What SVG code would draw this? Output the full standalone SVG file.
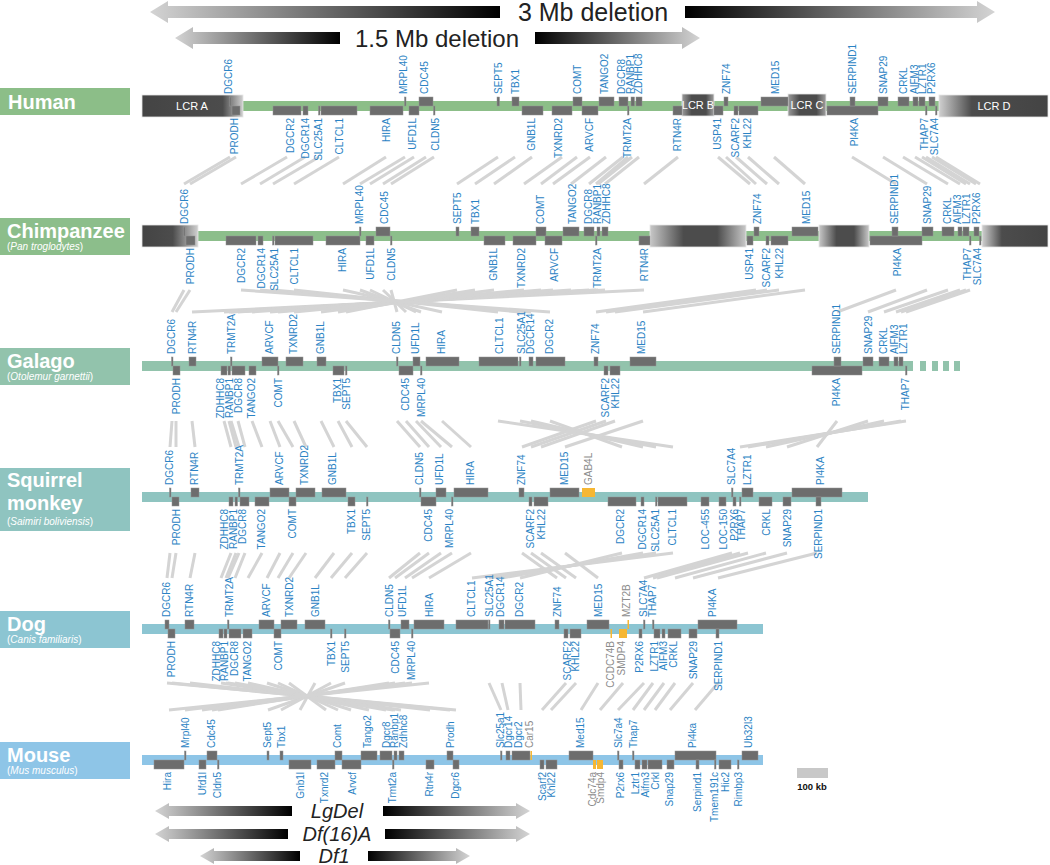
<svg xmlns="http://www.w3.org/2000/svg" width="1050" height="865" viewBox="0 0 1050 865">
<defs>
<style>
.g{fill:#6d6d6d;stroke:#939393;stroke-width:0.5}
.o{fill:#f6b733}
.t{font-family:"Liberation Sans",Arial,sans-serif;font-size:10px;fill:#2b83c4;dominant-baseline:central}
.u{text-anchor:start}
.l{text-anchor:end}
.gr{fill:#8c8c8c}
.lcr{font-family:"Liberation Sans",Arial,sans-serif;font-size:11px;fill:#fff;text-anchor:middle}
.ttl{font-family:"Liberation Sans",Arial,sans-serif;font-size:20px;font-weight:bold;fill:#fff}
.sub{font-family:"Liberation Sans",Arial,sans-serif;font-size:10px;fill:#fff}
.ar{font-family:"Liberation Sans",Arial,sans-serif;fill:#222;text-anchor:middle}
.cn line{stroke:#d4d4d4;stroke-width:3}
.box{stroke:#e6e6e6;stroke-width:0.8}
</style>
<linearGradient id="gA" x1="0" x2="1"><stop offset="0" stop-color="#444"/><stop offset="0.8" stop-color="#4c4c4c"/><stop offset="1" stop-color="#cfcfcf"/></linearGradient>
<linearGradient id="gA2" x1="0" x2="1"><stop offset="0" stop-color="#444"/><stop offset="0.55" stop-color="#4c4c4c"/><stop offset="1" stop-color="#d0d0d0"/></linearGradient>
<linearGradient id="gD" x1="0" x2="1"><stop offset="0" stop-color="#d0d0d0"/><stop offset="0.3" stop-color="#4c4c4c"/><stop offset="1" stop-color="#444"/></linearGradient>
<linearGradient id="gM" x1="0" x2="1"><stop offset="0" stop-color="#c8c8c8"/><stop offset="0.35" stop-color="#4c4c4c"/><stop offset="0.7" stop-color="#4c4c4c"/><stop offset="1" stop-color="#c8c8c8"/></linearGradient>
<linearGradient id="gS" x1="0" x2="1"><stop offset="0" stop-color="#9a9a9a"/><stop offset="0.3" stop-color="#4c4c4c"/><stop offset="0.75" stop-color="#4c4c4c"/><stop offset="1" stop-color="#a0a0a0"/></linearGradient>
<linearGradient id="arL" x1="0" x2="1"><stop offset="0" stop-color="#d4d4d4"/><stop offset="1" stop-color="#000"/></linearGradient>
<linearGradient id="arR" x1="0" x2="1"><stop offset="0" stop-color="#000"/><stop offset="1" stop-color="#d4d4d4"/></linearGradient>
</defs>
<rect width="1050" height="865" fill="#fff"/>

<g id="deletion-3mb">
<polygon fill="url(#arL)" points="150,12 168,1 168,6 500,6 500,18 168,18 168,23"/>
<polygon fill="url(#arR)" points="685,6 977,6 977,1 995,12 977,23 977,18 685,18"/>
<text class="ar" x="593" y="21" font-size="25">3 Mb deletion</text>
</g>
<g id="deletion-1_5mb">
<polygon fill="url(#arL)" points="175,38 193,27 193,32 340,32 340,44 193,44 193,49"/>
<polygon fill="url(#arR)" points="535,32 682,32 682,27 700,38 682,49 682,44 535,44"/>
<text class="ar" x="437" y="47" font-size="24">1.5 Mb deletion</text>
</g>

<g class="cn" id="connectors">
<line x1="230" y1="157" x2="184" y2="184"/><line x1="236" y1="157" x2="190" y2="184"/><line x1="287" y1="157" x2="241" y2="184"/><line x1="305" y1="157" x2="260" y2="184"/><line x1="319" y1="157" x2="273" y2="184"/><line x1="339" y1="157" x2="294" y2="184"/><line x1="386" y1="157" x2="343" y2="184"/><line x1="405" y1="157" x2="360" y2="184"/><line x1="414" y1="157" x2="370" y2="184"/><line x1="426" y1="157" x2="383" y2="184"/><line x1="434" y1="157" x2="391" y2="184"/><line x1="498" y1="157" x2="457" y2="184"/><line x1="515" y1="157" x2="475" y2="184"/><line x1="532" y1="157" x2="494" y2="184"/><line x1="562" y1="157" x2="524" y2="184"/><line x1="577" y1="157" x2="541" y2="184"/><line x1="590" y1="157" x2="553" y2="184"/><line x1="606" y1="157" x2="571" y2="184"/><line x1="623" y1="157" x2="589" y2="184"/><line x1="628" y1="157" x2="596" y2="184"/><line x1="632" y1="157" x2="598" y2="184"/><line x1="639" y1="157" x2="605" y2="184"/><line x1="678" y1="157" x2="644" y2="184"/><line x1="718" y1="157" x2="750" y2="184"/><line x1="726" y1="157" x2="756" y2="184"/><line x1="736" y1="157" x2="767" y2="184"/><line x1="748" y1="157" x2="779" y2="184"/><line x1="774" y1="157" x2="805" y2="184"/><line x1="852" y1="157" x2="896" y2="184"/><line x1="883" y1="157" x2="927" y2="184"/><line x1="903" y1="157" x2="948" y2="184"/><line x1="915" y1="157" x2="960" y2="184"/><line x1="922" y1="157" x2="966" y2="184"/><line x1="926" y1="157" x2="970" y2="184"/><line x1="932" y1="157" x2="976" y2="184"/><line x1="936" y1="157" x2="980" y2="184"/>
<line x1="184" y1="290" x2="172" y2="312"/><line x1="190" y1="290" x2="176" y2="312"/><line x1="644" y1="290" x2="192" y2="312"/><line x1="605" y1="290" x2="224" y2="312"/><line x1="598" y1="290" x2="229" y2="312"/><line x1="596" y1="290" x2="231" y2="312"/><line x1="589" y1="290" x2="238" y2="312"/><line x1="571" y1="290" x2="252" y2="312"/><line x1="553" y1="290" x2="270" y2="312"/><line x1="541" y1="290" x2="278" y2="312"/><line x1="524" y1="290" x2="294" y2="312"/><line x1="494" y1="290" x2="321" y2="312"/><line x1="475" y1="290" x2="338" y2="312"/><line x1="457" y1="290" x2="346" y2="312"/><line x1="391" y1="290" x2="397" y2="312"/><line x1="383" y1="290" x2="406" y2="312"/><line x1="370" y1="290" x2="416" y2="312"/><line x1="360" y1="290" x2="421" y2="312"/><line x1="343" y1="290" x2="442" y2="312"/><line x1="294" y1="290" x2="498" y2="312"/><line x1="273" y1="290" x2="520" y2="312"/><line x1="260" y1="290" x2="531" y2="312"/><line x1="241" y1="290" x2="550" y2="312"/><line x1="756" y1="290" x2="596" y2="312"/><line x1="767" y1="290" x2="606" y2="312"/><line x1="779" y1="290" x2="615" y2="312"/><line x1="805" y1="290" x2="643" y2="312"/><line x1="896" y1="290" x2="837" y2="312"/><line x1="927" y1="290" x2="868" y2="312"/><line x1="948" y1="290" x2="884" y2="312"/><line x1="960" y1="290" x2="896" y2="312"/><line x1="966" y1="290" x2="901" y2="312"/><line x1="970" y1="290" x2="906" y2="312"/>
<line x1="172" y1="421" x2="170" y2="447"/><line x1="176" y1="421" x2="176" y2="447"/><line x1="192" y1="421" x2="195" y2="447"/><line x1="224" y1="421" x2="231" y2="447"/><line x1="229" y1="421" x2="236" y2="447"/><line x1="231" y1="421" x2="239" y2="447"/><line x1="238" y1="421" x2="245" y2="447"/><line x1="252" y1="421" x2="262" y2="447"/><line x1="270" y1="421" x2="280" y2="447"/><line x1="278" y1="421" x2="293" y2="447"/><line x1="294" y1="421" x2="306" y2="447"/><line x1="321" y1="421" x2="334" y2="447"/><line x1="338" y1="421" x2="352" y2="447"/><line x1="346" y1="421" x2="367" y2="447"/><line x1="397" y1="421" x2="420" y2="447"/><line x1="406" y1="421" x2="429" y2="447"/><line x1="416" y1="421" x2="441" y2="447"/><line x1="421" y1="421" x2="452" y2="447"/><line x1="442" y1="421" x2="471" y2="447"/><line x1="498" y1="421" x2="673" y2="447"/><line x1="520" y1="421" x2="656" y2="447"/><line x1="531" y1="421" x2="643" y2="447"/><line x1="550" y1="421" x2="622" y2="447"/><line x1="596" y1="421" x2="522" y2="447"/><line x1="606" y1="421" x2="531" y2="447"/><line x1="615" y1="421" x2="541" y2="447"/><line x1="643" y1="421" x2="565" y2="447"/><line x1="837" y1="421" x2="817" y2="447"/><line x1="868" y1="421" x2="787" y2="447"/><line x1="884" y1="421" x2="766" y2="447"/><line x1="901" y1="421" x2="748" y2="447"/><line x1="906" y1="421" x2="740" y2="447"/>
<line x1="170" y1="553" x2="167" y2="578"/><line x1="176" y1="553" x2="172" y2="578"/><line x1="195" y1="553" x2="190" y2="578"/><line x1="231" y1="553" x2="221" y2="578"/><line x1="236" y1="553" x2="226" y2="578"/><line x1="239" y1="553" x2="228" y2="578"/><line x1="245" y1="553" x2="235" y2="578"/><line x1="262" y1="553" x2="248" y2="578"/><line x1="280" y1="553" x2="267" y2="578"/><line x1="293" y1="553" x2="278" y2="578"/><line x1="306" y1="553" x2="289" y2="578"/><line x1="334" y1="553" x2="315" y2="578"/><line x1="352" y1="553" x2="331" y2="578"/><line x1="367" y1="553" x2="345" y2="578"/><line x1="420" y1="553" x2="389" y2="578"/><line x1="429" y1="553" x2="395" y2="578"/><line x1="441" y1="553" x2="405" y2="578"/><line x1="452" y1="553" x2="412" y2="578"/><line x1="471" y1="553" x2="429" y2="578"/><line x1="522" y1="553" x2="557" y2="578"/><line x1="531" y1="553" x2="566" y2="578"/><line x1="541" y1="553" x2="576" y2="578"/><line x1="565" y1="553" x2="598" y2="578"/><line x1="622" y1="553" x2="520" y2="578"/><line x1="643" y1="553" x2="502" y2="578"/><line x1="656" y1="553" x2="489" y2="578"/><line x1="673" y1="553" x2="472" y2="578"/><line x1="732" y1="553" x2="644" y2="578"/><line x1="740" y1="553" x2="653" y2="578"/><line x1="748" y1="553" x2="657" y2="578"/><line x1="766" y1="553" x2="675" y2="578"/><line x1="787" y1="553" x2="693" y2="578"/><line x1="817" y1="553" x2="718" y2="578"/>
<line x1="167" y1="683" x2="456" y2="710"/><line x1="172" y1="683" x2="450" y2="710"/><line x1="190" y1="683" x2="430" y2="710"/><line x1="221" y1="683" x2="401" y2="710"/><line x1="226" y1="683" x2="395" y2="710"/><line x1="228" y1="683" x2="393" y2="710"/><line x1="235" y1="683" x2="386" y2="710"/><line x1="248" y1="683" x2="369" y2="710"/><line x1="267" y1="683" x2="351" y2="710"/><line x1="278" y1="683" x2="338" y2="710"/><line x1="289" y1="683" x2="326" y2="710"/><line x1="315" y1="683" x2="300" y2="710"/><line x1="331" y1="683" x2="281" y2="710"/><line x1="345" y1="683" x2="268" y2="710"/><line x1="389" y1="683" x2="218" y2="710"/><line x1="395" y1="683" x2="212" y2="710"/><line x1="405" y1="683" x2="202" y2="710"/><line x1="412" y1="683" x2="185" y2="710"/><line x1="429" y1="683" x2="169" y2="710"/><line x1="489" y1="683" x2="501" y2="710"/><line x1="502" y1="683" x2="508" y2="710"/><line x1="520" y1="683" x2="521" y2="710"/><line x1="566" y1="683" x2="542" y2="710"/><line x1="576" y1="683" x2="551" y2="710"/><line x1="598" y1="683" x2="581" y2="710"/><line x1="623" y1="683" x2="600" y2="710"/><line x1="644" y1="683" x2="618" y2="710"/><line x1="653" y1="683" x2="633" y2="710"/><line x1="664" y1="683" x2="644" y2="710"/><line x1="675" y1="683" x2="655" y2="710"/><line x1="693" y1="683" x2="670" y2="710"/><line x1="718" y1="683" x2="695" y2="710"/>
</g>

<g id="human">
<rect x="0" y="88" width="130" height="27" fill="#8cbe88"/>
<text class="ttl" x="8" y="109">Human</text>
<rect x="142" y="101" width="906" height="10" fill="#8cbe88"/>
<rect class="box" x="142" y="95" width="101" height="22" fill="url(#gA)"/><text class="lcr" x="192" y="110">LCR A</text>
<rect class="box" x="682" y="94" width="32" height="22" fill="url(#gS)"/><text class="lcr" x="698" y="109" font-size="10">LCR B</text>
<rect class="box" x="788" y="94" width="38" height="22" fill="url(#gS)"/><text class="lcr" x="807" y="109">LCR C</text>
<rect class="box" x="939" y="95" width="109" height="22" fill="url(#gD)"/><text class="lcr" x="994" y="110">LCR D</text>
<rect class="g" x="229.5" y="97" width="1.5" height="9"/><rect class="g" x="232" y="106" width="8" height="9"/><rect class="g" x="273" y="106" width="28" height="9"/><rect class="g" x="303" y="106" width="5" height="9"/><rect class="g" x="318.5" y="106" width="1.5" height="9"/><rect class="g" x="321" y="106" width="36" height="9"/><rect class="g" x="370" y="106" width="33" height="9"/><rect class="g" x="404.5" y="97" width="1.5" height="9"/><rect class="g" x="409" y="106" width="10" height="9"/><rect class="g" x="419" y="97" width="14" height="9"/><rect class="g" x="433.5" y="106" width="1.5" height="9"/><rect class="g" x="497" y="97" width="2.5" height="9"/><rect class="g" x="512" y="97" width="7" height="9"/><rect class="g" x="522" y="106" width="21" height="9"/><rect class="g" x="552" y="106" width="20" height="9"/><rect class="g" x="573" y="97" width="9" height="9"/><rect class="g" x="582" y="106" width="16" height="9"/><rect class="g" x="599" y="97" width="15" height="9"/><rect class="g" x="619" y="97" width="9" height="9"/><rect class="g" x="627.5" y="106" width="1.5" height="9"/><rect class="g" x="631" y="97" width="3.5" height="9"/><rect class="g" x="636" y="97" width="6" height="9"/><rect class="g" x="673" y="106" width="9" height="9"/><rect class="g" x="714" y="106" width="9" height="9"/><rect class="g" x="724" y="97" width="4" height="9"/><rect class="g" x="734" y="106" width="4" height="9"/><rect class="g" x="739" y="106" width="19" height="9"/><rect class="g" x="761" y="97" width="27" height="9"/><rect class="g" x="827" y="106" width="51" height="9"/><rect class="g" x="850" y="97" width="5" height="9"/><rect class="g" x="878" y="97" width="10" height="9"/><rect class="g" x="898" y="97" width="11" height="9"/><rect class="g" x="913" y="97" width="5" height="9"/><rect class="g" x="919" y="97" width="6" height="9"/><rect class="g" x="925.5" y="106" width="1.5" height="9"/><rect class="g" x="929" y="97" width="6" height="9"/><rect class="g" x="935.5" y="106" width="1.5" height="9"/>
<text class="t u" transform="translate(228 94)rotate(-90)">DGCR6</text><text class="t u" transform="translate(403 94)rotate(-90)">MRPL40</text><text class="t u" transform="translate(424 94)rotate(-90)">CDC45</text><text class="t u" transform="translate(498 94)rotate(-90)">SEPT5</text><text class="t u" transform="translate(515 94)rotate(-90)">TBX1</text><text class="t u" transform="translate(577 94)rotate(-90)">COMT</text><text class="t u" transform="translate(604 94)rotate(-90)">TANGO2</text><text class="t u" transform="translate(621 94)rotate(-90)">DGCR8</text><text class="t u" transform="translate(630 94)rotate(-90)">RANBP1</text><text class="t u" transform="translate(638 94)rotate(-90)">ZDHHC8</text><text class="t u" transform="translate(726 94)rotate(-90)">ZNF74</text><text class="t u" transform="translate(775 94)rotate(-90)">MED15</text><text class="t u" transform="translate(852 94)rotate(-90)">SERPIND1</text><text class="t u" transform="translate(883 94)rotate(-90)">SNAP29</text><text class="t u" transform="translate(903 94)rotate(-90)">CRKL</text><text class="t u" transform="translate(914 94)rotate(-90)">AIFM3</text><text class="t u" transform="translate(922 94)rotate(-90)">LZTR1</text><text class="t u" transform="translate(931 94)rotate(-90)">P2RX6</text>
<text class="t l" transform="translate(234 118)rotate(-90)">PRODH</text><text class="t l" transform="translate(290 118)rotate(-90)">DGCR2</text><text class="t l" transform="translate(305 118)rotate(-90)">DGCR14</text><text class="t l" transform="translate(318 118)rotate(-90)">SLC25A1</text><text class="t l" transform="translate(339 118)rotate(-90)">CLTCL1</text><text class="t l" transform="translate(386 118)rotate(-90)">HIRA</text><text class="t l" transform="translate(412 118)rotate(-90)">UFD1L</text><text class="t l" transform="translate(435 118)rotate(-90)">CLDN5</text><text class="t l" transform="translate(531 118)rotate(-90)">GNB1L</text><text class="t l" transform="translate(558 118)rotate(-90)">TXNRD2</text><text class="t l" transform="translate(589 118)rotate(-90)">ARVCF</text><text class="t l" transform="translate(627 118)rotate(-90)">TRMT2A</text><text class="t l" transform="translate(677 118)rotate(-90)">RTN4R</text><text class="t l" transform="translate(717 118)rotate(-90)">USP41</text><text class="t l" transform="translate(735 118)rotate(-90)">SCARF2</text><text class="t l" transform="translate(747 118)rotate(-90)">KHL22</text><text class="t l" transform="translate(854 118)rotate(-90)">PI4KA</text><text class="t l" transform="translate(924 118)rotate(-90)">THAP7</text><text class="t l" transform="translate(934 118)rotate(-90)">SLC7A4</text>
</g>

<g id="chimpanzee">
<rect x="0" y="218" width="130" height="37" fill="#8cbe8b"/>
<text class="ttl" x="7" y="238">Chimpanzee</text>
<text class="sub" x="7" y="250">(<tspan font-style="italic">Pan troglodytes</tspan>)</text>
<rect x="142" y="231" width="906" height="10" fill="#8cbe8b"/>
<rect class="box" x="142" y="225" width="56" height="22" fill="url(#gA2)"/>
<rect class="box" x="650" y="225" width="96" height="22" fill="url(#gM)"/>
<rect class="box" x="819" y="225" width="50" height="22" fill="url(#gM)"/>
<rect class="box" x="982" y="225" width="66" height="22" fill="url(#gD)"/>
<rect class="g" x="183.5" y="227" width="1.5" height="9"/><rect class="g" x="186" y="236" width="9" height="9"/><rect class="g" x="226" y="236" width="30" height="9"/><rect class="g" x="258" y="236" width="5" height="9"/><rect class="g" x="272.5" y="236" width="1.5" height="9"/><rect class="g" x="275" y="236" width="38" height="9"/><rect class="g" x="326" y="236" width="34" height="9"/><rect class="g" x="359.5" y="227" width="1.5" height="9"/><rect class="g" x="366" y="236" width="8" height="9"/><rect class="g" x="376" y="227" width="14" height="9"/><rect class="g" x="390.5" y="236" width="1.5" height="9"/><rect class="g" x="456" y="227" width="3" height="9"/><rect class="g" x="471" y="227" width="8" height="9"/><rect class="g" x="484" y="236" width="21" height="9"/><rect class="g" x="513" y="236" width="23" height="9"/><rect class="g" x="536" y="227" width="10" height="9"/><rect class="g" x="545" y="236" width="17" height="9"/><rect class="g" x="563" y="227" width="16" height="9"/><rect class="g" x="584" y="227" width="10" height="9"/><rect class="g" x="595.5" y="236" width="1.5" height="9"/><rect class="g" x="597" y="227" width="3" height="9"/><rect class="g" x="602" y="227" width="6" height="9"/><rect class="g" x="639" y="236" width="11" height="9"/><rect class="g" x="747" y="236" width="6" height="9"/><rect class="g" x="754" y="227" width="5" height="9"/><rect class="g" x="766" y="236" width="3" height="9"/><rect class="g" x="771" y="236" width="17" height="9"/><rect class="g" x="792" y="227" width="26" height="9"/><rect class="g" x="870" y="236" width="52" height="9"/><rect class="g" x="892" y="227" width="6" height="9"/><rect class="g" x="922" y="227" width="11" height="9"/><rect class="g" x="942" y="227" width="12" height="9"/><rect class="g" x="958" y="227" width="4" height="9"/><rect class="g" x="963" y="227" width="6" height="9"/><rect class="g" x="969.5" y="236" width="1.5" height="9"/><rect class="g" x="974" y="227" width="5" height="9"/><rect class="g" x="979.5" y="236" width="1.5" height="9"/>
<text class="t u" transform="translate(184 224)rotate(-90)">DGCR6</text><text class="t u" transform="translate(359 224)rotate(-90)">MRPL40</text><text class="t u" transform="translate(384 224)rotate(-90)">CDC45</text><text class="t u" transform="translate(457 224)rotate(-90)">SEPT5</text><text class="t u" transform="translate(475 224)rotate(-90)">TBX1</text><text class="t u" transform="translate(540 224)rotate(-90)">COMT</text><text class="t u" transform="translate(572 224)rotate(-90)">TANGO2</text><text class="t u" transform="translate(588 224)rotate(-90)">DGCR8</text><text class="t u" transform="translate(597 224)rotate(-90)">RANBP1</text><text class="t u" transform="translate(606 224)rotate(-90)">ZDHHC8</text><text class="t u" transform="translate(757 224)rotate(-90)">ZNF74</text><text class="t u" transform="translate(806 224)rotate(-90)">MED15</text><text class="t u" transform="translate(894 224)rotate(-90)">SERPIND1</text><text class="t u" transform="translate(927 224)rotate(-90)">SNAP29</text><text class="t u" transform="translate(947 224)rotate(-90)">CRKL</text><text class="t u" transform="translate(957 224)rotate(-90)">AIFM3</text><text class="t u" transform="translate(966 224)rotate(-90)">LZTR1</text><text class="t u" transform="translate(976 224)rotate(-90)">P2RX6</text>
<text class="t l" transform="translate(190 248)rotate(-90)">PRODH</text><text class="t l" transform="translate(241 248)rotate(-90)">DGCR2</text><text class="t l" transform="translate(261 248)rotate(-90)">DGCR14</text><text class="t l" transform="translate(274 248)rotate(-90)">SLC25A1</text><text class="t l" transform="translate(294 248)rotate(-90)">CLTCL1</text><text class="t l" transform="translate(342 248)rotate(-90)">HIRA</text><text class="t l" transform="translate(370 248)rotate(-90)">UFD1L</text><text class="t l" transform="translate(391 248)rotate(-90)">CLDN5</text><text class="t l" transform="translate(493 248)rotate(-90)">GNB1L</text><text class="t l" transform="translate(521 248)rotate(-90)">TXNRD2</text><text class="t l" transform="translate(554 248)rotate(-90)">ARVCF</text><text class="t l" transform="translate(597 248)rotate(-90)">TRMT2A</text><text class="t l" transform="translate(644 248)rotate(-90)">RTN4R</text><text class="t l" transform="translate(749 248)rotate(-90)">USP41</text><text class="t l" transform="translate(766 248)rotate(-90)">SCARF2</text><text class="t l" transform="translate(779 248)rotate(-90)">KHL22</text><text class="t l" transform="translate(897 248)rotate(-90)">PI4KA</text><text class="t l" transform="translate(967 248)rotate(-90)">THAP7</text><text class="t l" transform="translate(977 248)rotate(-90)">SLC7A4</text>
</g>

<g id="galago">
<rect x="0" y="348" width="130" height="37" fill="#92c3ac"/>
<text class="ttl" x="7" y="368">Galago</text>
<text class="sub" x="7" y="380">(<tspan font-style="italic">Otolemur garnettii</tspan>)</text>
<rect x="142" y="361" width="771" height="10" fill="#92c3ac"/>
<rect x="920" y="361" width="6" height="10" fill="#92c3ac"/><rect x="932" y="361" width="6" height="10" fill="#92c3ac"/><rect x="943" y="361" width="6" height="10" fill="#92c3ac"/><rect x="954" y="361" width="6" height="10" fill="#92c3ac"/>
<rect class="g" x="171.5" y="357" width="1.5" height="9"/><rect class="g" x="173" y="366" width="7" height="9"/><rect class="g" x="189" y="357" width="7" height="9"/><rect class="g" x="221" y="366" width="6" height="9"/><rect class="g" x="228" y="366" width="2.5" height="9"/><rect class="g" x="230.5" y="357" width="1.5" height="9"/><rect class="g" x="232" y="366" width="13" height="9"/><rect class="g" x="249" y="366" width="7" height="9"/><rect class="g" x="262" y="357" width="16" height="9"/><rect class="g" x="277.5" y="366" width="1.5" height="9"/><rect class="g" x="286" y="357" width="17" height="9"/><rect class="g" x="317" y="357" width="9" height="9"/><rect class="g" x="333" y="366" width="11" height="9"/><rect class="g" x="345.5" y="366" width="1.5" height="9"/><rect class="g" x="396.5" y="357" width="1.5" height="9"/><rect class="g" x="399" y="366" width="14" height="9"/><rect class="g" x="413" y="357" width="7" height="9"/><rect class="g" x="420.5" y="366" width="1.5" height="9"/><rect class="g" x="426" y="357" width="33" height="9"/><rect class="g" x="479" y="357" width="39" height="9"/><rect class="g" x="519.5" y="357" width="1.5" height="9"/><rect class="g" x="529" y="357" width="4" height="9"/><rect class="g" x="536" y="357" width="29" height="9"/><rect class="g" x="594" y="357" width="4" height="9"/><rect class="g" x="604" y="366" width="4" height="9"/><rect class="g" x="610" y="366" width="10" height="9"/><rect class="g" x="630" y="357" width="26" height="9"/><rect class="g" x="812" y="366" width="50" height="9"/><rect class="g" x="834" y="357" width="7" height="9"/><rect class="g" x="863" y="357" width="10" height="9"/><rect class="g" x="879" y="357" width="10" height="9"/><rect class="g" x="894" y="357" width="4" height="9"/><rect class="g" x="899" y="357" width="4" height="9"/><rect class="g" x="905.5" y="366" width="1.5" height="9"/>
<text class="t u" transform="translate(171 354)rotate(-90)">DGCR6</text><text class="t u" transform="translate(192 354)rotate(-90)">RTN4R</text><text class="t u" transform="translate(231 354)rotate(-90)">TRMT2A</text><text class="t u" transform="translate(269 354)rotate(-90)">ARVCF</text><text class="t u" transform="translate(293 354)rotate(-90)">TXNRD2</text><text class="t u" transform="translate(320 354)rotate(-90)">GNB1L</text><text class="t u" transform="translate(396 354)rotate(-90)">CLDN5</text><text class="t u" transform="translate(415 354)rotate(-90)">UFD1L</text><text class="t u" transform="translate(441 354)rotate(-90)">HIRA</text><text class="t u" transform="translate(499 354)rotate(-90)">CLTCL1</text><text class="t u" transform="translate(521 354)rotate(-90)">SLC25A1</text><text class="t u" transform="translate(530 354)rotate(-90)">DGCR14</text><text class="t u" transform="translate(549 354)rotate(-90)">DGCR2</text><text class="t u" transform="translate(595 354)rotate(-90)">ZNF74</text><text class="t u" transform="translate(641 354)rotate(-90)">MED15</text><text class="t u" transform="translate(836 354)rotate(-90)">SERPIND1</text><text class="t u" transform="translate(868 354)rotate(-90)">SNAP29</text><text class="t u" transform="translate(883 354)rotate(-90)">CRKL</text><text class="t u" transform="translate(894 354)rotate(-90)">AIFM3</text><text class="t u" transform="translate(903 354)rotate(-90)">LZTR1</text>
<text class="t l" transform="translate(176 378)rotate(-90)">PRODH</text><text class="t l" transform="translate(220 378)rotate(-90)">ZDHHC8</text><text class="t l" transform="translate(229 378)rotate(-90)">RANBP1</text><text class="t l" transform="translate(238 378)rotate(-90)">DGCR8</text><text class="t l" transform="translate(251 378)rotate(-90)">TANGO2</text><text class="t l" transform="translate(278 378)rotate(-90)">COMT</text><text class="t l" transform="translate(337 378)rotate(-90)">TBX1</text><text class="t l" transform="translate(346 378)rotate(-90)">SEPT5</text><text class="t l" transform="translate(405 378)rotate(-90)">CDC45</text><text class="t l" transform="translate(421 378)rotate(-90)">MRPL40</text><text class="t l" transform="translate(605 378)rotate(-90)">SCARF2</text><text class="t l" transform="translate(615 378)rotate(-90)">KHL22</text><text class="t l" transform="translate(836 378)rotate(-90)">PI4KA</text><text class="t l" transform="translate(905 378)rotate(-90)">THAP7</text>
</g>

<g id="squirrel-monkey">
<rect x="0" y="468" width="130" height="63" fill="#8fc4c0"/>
<text class="ttl" x="7" y="487">Squirrel</text>
<text class="ttl" x="7" y="510">monkey</text>
<text class="sub" x="7" y="525">(<tspan font-style="italic">Saimiri boliviensis</tspan>)</text>
<rect x="142" y="492" width="726" height="10" fill="#8fc4c0"/>
<rect class="g" x="169.5" y="488" width="1.5" height="9"/><rect class="g" x="172" y="497" width="7" height="9"/><rect class="g" x="191" y="488" width="8" height="9"/><rect class="g" x="229" y="497" width="4" height="9"/><rect class="g" x="235" y="497" width="2.5" height="9"/><rect class="g" x="238.5" y="488" width="1.5" height="9"/><rect class="g" x="240" y="497" width="9" height="9"/><rect class="g" x="255" y="497" width="14" height="9"/><rect class="g" x="270" y="488" width="19" height="9"/><rect class="g" x="289" y="497" width="7" height="9"/><rect class="g" x="296" y="488" width="19" height="9"/><rect class="g" x="322" y="488" width="24" height="9"/><rect class="g" x="348" y="497" width="7" height="9"/><rect class="g" x="366.5" y="497" width="1.5" height="9"/><rect class="g" x="419.5" y="488" width="1.5" height="9"/><rect class="g" x="421" y="497" width="15" height="9"/><rect class="g" x="436" y="488" width="10" height="9"/><rect class="g" x="451.5" y="497" width="1.5" height="9"/><rect class="g" x="454" y="488" width="34" height="9"/><rect class="g" x="519" y="488" width="5" height="9"/><rect class="g" x="529" y="497" width="3" height="9"/><rect class="g" x="534" y="497" width="14" height="9"/><rect class="g" x="550" y="488" width="29" height="9"/><rect class="o" x="582" y="488" width="13" height="9"/><rect class="g" x="608" y="497" width="28" height="9"/><rect class="g" x="641" y="497" width="3" height="9"/><rect class="g" x="655.5" y="497" width="1.5" height="9"/><rect class="g" x="658" y="497" width="29" height="9"/><rect class="g" x="701" y="497" width="8" height="9"/><rect class="g" x="719" y="497" width="7" height="9"/><rect class="g" x="731.5" y="488" width="1.5" height="9"/><rect class="g" x="733" y="497" width="3" height="9"/><rect class="g" x="739.5" y="497" width="1.5" height="9"/><rect class="g" x="742" y="488" width="11" height="9"/><rect class="g" x="759" y="497" width="13" height="9"/><rect class="g" x="783" y="497" width="8" height="9"/><rect class="g" x="792" y="488" width="50" height="9"/><rect class="g" x="816" y="497" width="5" height="9"/>
<text class="t u" transform="translate(169 485)rotate(-90)">DGCR6</text><text class="t u" transform="translate(194 485)rotate(-90)">RTN4R</text><text class="t u" transform="translate(239 485)rotate(-90)">TRMT2A</text><text class="t u" transform="translate(279 485)rotate(-90)">ARVCF</text><text class="t u" transform="translate(304 485)rotate(-90)">TXNRD2</text><text class="t u" transform="translate(332 485)rotate(-90)">GNB1L</text><text class="t u" transform="translate(419 485)rotate(-90)">CLDN5</text><text class="t u" transform="translate(439 485)rotate(-90)">UFD1L</text><text class="t u" transform="translate(470 485)rotate(-90)">HIRA</text><text class="t u" transform="translate(521 485)rotate(-90)">ZNF74</text><text class="t u" transform="translate(564 485)rotate(-90)">MED15</text><text class="t u gr" transform="translate(588 485)rotate(-90)">GAB4L</text><text class="t u" transform="translate(731 485)rotate(-90)">SLC7A4</text><text class="t u" transform="translate(747 485)rotate(-90)">LZTR1</text><text class="t u" transform="translate(820 485)rotate(-90)">PI4KA</text>
<text class="t l" transform="translate(176 509)rotate(-90)">PRODH</text><text class="t l" transform="translate(224 509)rotate(-90)">ZDHHC8</text><text class="t l" transform="translate(233 509)rotate(-90)">RANBP1</text><text class="t l" transform="translate(242 509)rotate(-90)">DGCR8</text><text class="t l" transform="translate(261 509)rotate(-90)">TANGO2</text><text class="t l" transform="translate(292 509)rotate(-90)">COMT</text><text class="t l" transform="translate(351 509)rotate(-90)">TBX1</text><text class="t l" transform="translate(366 509)rotate(-90)">SEPT5</text><text class="t l" transform="translate(428 509)rotate(-90)">CDC45</text><text class="t l" transform="translate(449 509)rotate(-90)">MRPL40</text><text class="t l" transform="translate(530 509)rotate(-90)">SCARF2</text><text class="t l" transform="translate(541 509)rotate(-90)">KHL22</text><text class="t l" transform="translate(620 509)rotate(-90)">DGCR2</text><text class="t l" transform="translate(642 509)rotate(-90)">DGCR14</text><text class="t l" transform="translate(655 509)rotate(-90)">SLC25A1</text><text class="t l" transform="translate(672 509)rotate(-90)">CLTCL1</text><text class="t l" transform="translate(705 509)rotate(-90)">LOC-455</text><text class="t l" transform="translate(723 509)rotate(-90)">LOC-150</text><text class="t l" transform="translate(734 509)rotate(-90)">P2RX6</text><text class="t l" transform="translate(741 509)rotate(-90)">THAP7</text><text class="t l" transform="translate(766 509)rotate(-90)">CRKL</text><text class="t l" transform="translate(787 509)rotate(-90)">SNAP29</text><text class="t l" transform="translate(818 509)rotate(-90)">SERPIND1</text>
</g>

<g id="dog">
<rect x="0" y="611" width="130" height="37" fill="#8cc5d2"/>
<text class="ttl" x="7" y="631">Dog</text>
<text class="sub" x="7" y="643">(<tspan font-style="italic">Canis familiaris</tspan>)</text>
<rect x="142" y="624" width="621" height="10" fill="#8cc5d2"/>
<rect class="g" x="165" y="620" width="4" height="9"/><rect class="g" x="168" y="629" width="7" height="9"/><rect class="g" x="185" y="620" width="9" height="9"/><rect class="g" x="219" y="629" width="4" height="9"/><rect class="g" x="224" y="629" width="3" height="9"/><rect class="g" x="227.5" y="620" width="1.5" height="9"/><rect class="g" x="229" y="629" width="12" height="9"/><rect class="g" x="243" y="629" width="9" height="9"/><rect class="g" x="259" y="620" width="15" height="9"/><rect class="g" x="274" y="629" width="7" height="9"/><rect class="g" x="281" y="620" width="16" height="9"/><rect class="g" x="305" y="620" width="20" height="9"/><rect class="g" x="330.5" y="629" width="1.5" height="9"/><rect class="g" x="344.5" y="629" width="1.5" height="9"/><rect class="g" x="388.5" y="620" width="1.5" height="9"/><rect class="g" x="390" y="629" width="10" height="9"/><rect class="g" x="401" y="620" width="8" height="9"/><rect class="g" x="411.5" y="629" width="1.5" height="9"/><rect class="g" x="414" y="620" width="30" height="9"/><rect class="g" x="456" y="620" width="32" height="9"/><rect class="g" x="488.5" y="620" width="1.5" height="9"/><rect class="g" x="499" y="620" width="5" height="9"/><rect class="g" x="505" y="620" width="30" height="9"/><rect class="g" x="555" y="620" width="4" height="9"/><rect class="g" x="564" y="629" width="4" height="9"/><rect class="g" x="570" y="629" width="11" height="9"/><rect class="g" x="587" y="620" width="22" height="9"/><rect class="o" x="610.5" y="629" width="1.5" height="9"/><rect class="o" x="619" y="629" width="8" height="9"/><rect class="o" x="627.5" y="620" width="1.5" height="9"/><rect class="g" x="639" y="629" width="3" height="9"/><rect class="g" x="643.5" y="620" width="1.5" height="9"/><rect class="g" x="652.5" y="620" width="1.5" height="9"/><rect class="g" x="654" y="629" width="6" height="9"/><rect class="g" x="662" y="629" width="3" height="9"/><rect class="g" x="668" y="629" width="13" height="9"/><rect class="g" x="689" y="629" width="8" height="9"/><rect class="g" x="698" y="620" width="39" height="9"/><rect class="g" x="716" y="629" width="3" height="9"/>
<text class="t u" transform="translate(166 617)rotate(-90)">DGCR6</text><text class="t u" transform="translate(189 617)rotate(-90)">RTN4R</text><text class="t u" transform="translate(229 617)rotate(-90)">TRMT2A</text><text class="t u" transform="translate(266 617)rotate(-90)">ARVCF</text><text class="t u" transform="translate(289 617)rotate(-90)">TXNRD2</text><text class="t u" transform="translate(315 617)rotate(-90)">GNB1L</text><text class="t u" transform="translate(389 617)rotate(-90)">CLDN5</text><text class="t u" transform="translate(402 617)rotate(-90)">UFD1L</text><text class="t u" transform="translate(429 617)rotate(-90)">HIRA</text><text class="t u" transform="translate(471 617)rotate(-90)">CLTCL1</text><text class="t u" transform="translate(489 617)rotate(-90)">SLC25A1</text><text class="t u" transform="translate(500 617)rotate(-90)">DGCR14</text><text class="t u" transform="translate(519 617)rotate(-90)">DGCR2</text><text class="t u" transform="translate(557 617)rotate(-90)">ZNF74</text><text class="t u" transform="translate(598 617)rotate(-90)">MED15</text><text class="t u gr" transform="translate(626 617)rotate(-90)">MZT2B</text><text class="t u" transform="translate(643 617)rotate(-90)">SLC7A4</text><text class="t u" transform="translate(652 617)rotate(-90)">THAP7</text><text class="t u" transform="translate(712 617)rotate(-90)">PI4KA</text>
<text class="t l" transform="translate(171 641)rotate(-90)">PRODH</text><text class="t l" transform="translate(216 641)rotate(-90)">ZDHHC8</text><text class="t l" transform="translate(224 641)rotate(-90)">RANBP1</text><text class="t l" transform="translate(234 641)rotate(-90)">DGCR8</text><text class="t l" transform="translate(247 641)rotate(-90)">TANGO2</text><text class="t l" transform="translate(278 641)rotate(-90)">COMT</text><text class="t l" transform="translate(331 641)rotate(-90)">TBX1</text><text class="t l" transform="translate(345 641)rotate(-90)">SEPT5</text><text class="t l" transform="translate(395 641)rotate(-90)">CDC45</text><text class="t l" transform="translate(411 641)rotate(-90)">MRPL40</text><text class="t l" transform="translate(567 641)rotate(-90)">SCARF2</text><text class="t l" transform="translate(575 641)rotate(-90)">KHL22</text><text class="t l gr" transform="translate(610 641)rotate(-90)">CCDC74B</text><text class="t l gr" transform="translate(621 641)rotate(-90)">SMDP4</text><text class="t l" transform="translate(639 641)rotate(-90)">P2RX6</text><text class="t l" transform="translate(654 641)rotate(-90)">LZTR1</text><text class="t l" transform="translate(663 641)rotate(-90)">AIFM3</text><text class="t l" transform="translate(673 641)rotate(-90)">CRKL</text><text class="t l" transform="translate(693 641)rotate(-90)">SNAP29</text><text class="t l" transform="translate(718 641)rotate(-90)">SERPIND1</text>
</g>

<g id="mouse">
<rect x="0" y="742" width="130" height="37" fill="#8ec5e7"/>
<text class="ttl" x="7" y="762">Mouse</text>
<text class="sub" x="7" y="774">(<tspan font-style="italic">Mus musculus</tspan>)</text>
<rect x="142" y="755" width="621" height="10" fill="#8ec5e7"/>
<rect class="g" x="154" y="760" width="30" height="9"/><rect class="g" x="184.5" y="751" width="1.5" height="9"/><rect class="g" x="199" y="760" width="7" height="9"/><rect class="g" x="207" y="751" width="10" height="9"/><rect class="g" x="217.5" y="760" width="1.5" height="9"/><rect class="g" x="267" y="751" width="2" height="9"/><rect class="g" x="280" y="751" width="3" height="9"/><rect class="g" x="289" y="760" width="22" height="9"/><rect class="g" x="317" y="760" width="18" height="9"/><rect class="g" x="335" y="751" width="7" height="9"/><rect class="g" x="342" y="760" width="19" height="9"/><rect class="g" x="361" y="751" width="16" height="9"/><rect class="g" x="380" y="751" width="12" height="9"/><rect class="g" x="392.5" y="760" width="1.5" height="9"/><rect class="g" x="394" y="751" width="3" height="9"/><rect class="g" x="399" y="751" width="5" height="9"/><rect class="g" x="426" y="760" width="8" height="9"/><rect class="g" x="447" y="751" width="6" height="9"/><rect class="g" x="453" y="760" width="6" height="9"/><rect class="g" x="500.5" y="751" width="1.5" height="9"/><rect class="g" x="506" y="751" width="4" height="9"/><rect class="g" x="512" y="751" width="18" height="9"/><rect class="o" x="530.5" y="751" width="1.5" height="9"/><rect class="g" x="540" y="760" width="4" height="9"/><rect class="g" x="546" y="760" width="11" height="9"/><rect class="g" x="569" y="751" width="24" height="9"/><rect class="o" x="593" y="760" width="3" height="9"/><rect class="o" x="597" y="760" width="6" height="9"/><rect class="g" x="617.5" y="751" width="1.5" height="9"/><rect class="g" x="619" y="760" width="4" height="9"/><rect class="g" x="632.5" y="751" width="1.5" height="9"/><rect class="g" x="635" y="760" width="5" height="9"/><rect class="g" x="642" y="760" width="5" height="9"/><rect class="g" x="648" y="760" width="14" height="9"/><rect class="g" x="667" y="760" width="7" height="9"/><rect class="g" x="675" y="751" width="41" height="9"/><rect class="g" x="696" y="760" width="3" height="9"/><rect class="g" x="714.5" y="760" width="1.5" height="9"/><rect class="g" x="719" y="760" width="12" height="9"/><rect class="g" x="737.5" y="760" width="1.5" height="9"/><rect class="g" x="742" y="751" width="16" height="9"/>
<text class="t u" transform="translate(185 748)rotate(-90)">Mrpl40</text><text class="t u" transform="translate(211 748)rotate(-90)">Cdc45</text><text class="t u" transform="translate(267 748)rotate(-90)">Sept5</text><text class="t u" transform="translate(281 748)rotate(-90)">Tbx1</text><text class="t u" transform="translate(337 748)rotate(-90)">Comt</text><text class="t u" transform="translate(367 748)rotate(-90)">Tango2</text><text class="t u" transform="translate(386 748)rotate(-90)">Dgcr8</text><text class="t u" transform="translate(394 748)rotate(-90)">Ranbp1</text><text class="t u" transform="translate(403 748)rotate(-90)">Zdhhc8</text><text class="t u" transform="translate(450 748)rotate(-90)">Prodh</text><text class="t u" transform="translate(500 748)rotate(-90)">Slc25a1</text><text class="t u" transform="translate(508 748)rotate(-90)">Dgcr14</text><text class="t u" transform="translate(518 748)rotate(-90)">Dgcr2</text><text class="t u gr" transform="translate(529 748)rotate(-90)">Car15</text><text class="t u" transform="translate(580 748)rotate(-90)">Med15</text><text class="t u" transform="translate(618 748)rotate(-90)">Slc7a4</text><text class="t u" transform="translate(633 748)rotate(-90)">Thap7</text><text class="t u" transform="translate(692 748)rotate(-90)">Pi4ka</text><text class="t u" transform="translate(748 748)rotate(-90)">Ub32l3</text>
<text class="t l" transform="translate(167 772)rotate(-90)">Hira</text><text class="t l" transform="translate(202 772)rotate(-90)">Ufd1l</text><text class="t l" transform="translate(217 772)rotate(-90)">Cldn5</text><text class="t l" transform="translate(300 772)rotate(-90)">Gnb1l</text><text class="t l" transform="translate(324 772)rotate(-90)">Txnrd2</text><text class="t l" transform="translate(352 772)rotate(-90)">Arvcf</text><text class="t l" transform="translate(392 772)rotate(-90)">Trmt2a</text><text class="t l" transform="translate(429 772)rotate(-90)">Rtn4r</text><text class="t l" transform="translate(455 772)rotate(-90)">Dgcr6</text><text class="t l" transform="translate(542 772)rotate(-90)">Scarf2</text><text class="t l" transform="translate(551 772)rotate(-90)">Khl22</text><text class="t l gr" transform="translate(592 772)rotate(-90)">Cdc74a</text><text class="t l gr" transform="translate(600 772)rotate(-90)">Smdp4</text><text class="t l" transform="translate(620 772)rotate(-90)">P2rx6</text><text class="t l" transform="translate(635 772)rotate(-90)">Lztr1</text><text class="t l" transform="translate(645 772)rotate(-90)">Aifm3</text><text class="t l" transform="translate(655 772)rotate(-90)">Crkl</text><text class="t l" transform="translate(669 772)rotate(-90)">Snap29</text><text class="t l" transform="translate(697 772)rotate(-90)">Serpind1</text><text class="t l" transform="translate(714 772)rotate(-90)">Tmem191c</text><text class="t l" transform="translate(725 772)rotate(-90)">Hic2</text><text class="t l" transform="translate(738 772)rotate(-90)">Rimbp3</text>
</g>

<g id="scale-bar">
<rect x="797" y="768" width="31" height="10" fill="#c8c8c8"/>
<text x="812" y="790" font-family="Liberation Sans, Arial, sans-serif" font-size="9.5" font-weight="bold" fill="#111" text-anchor="middle">100 kb</text>
</g>

<g id="lgdel">
<polygon fill="url(#arL)" points="155,811 169,803 169,806 292,806 292,816 169,816 169,819"/>
<polygon fill="url(#arR)" points="383,806 516,806 516,803 530,811 516,819 516,816 383,816"/>
<text class="ar" x="337" y="818" font-size="20" font-style="italic">LgDel</text>
</g>
<g id="df16a">
<polygon fill="url(#arL)" points="155,834 169,826 169,829 288,829 288,839 169,839 169,842"/>
<polygon fill="url(#arR)" points="385,829 516,829 516,826 530,834 516,842 516,839 385,839"/>
<text class="ar" x="337" y="841" font-size="20" font-style="italic">Df(16)A</text>
</g>
<g id="df1">
<polygon fill="url(#arL)" points="200,856 214,848 214,851 300,851 300,861 214,861 214,864"/>
<polygon fill="url(#arR)" points="368,851 456,851 456,848 470,856 456,864 456,861 368,861"/>
<text class="ar" x="334" y="863" font-size="20" font-style="italic">Df1</text>
</g>
</svg>
